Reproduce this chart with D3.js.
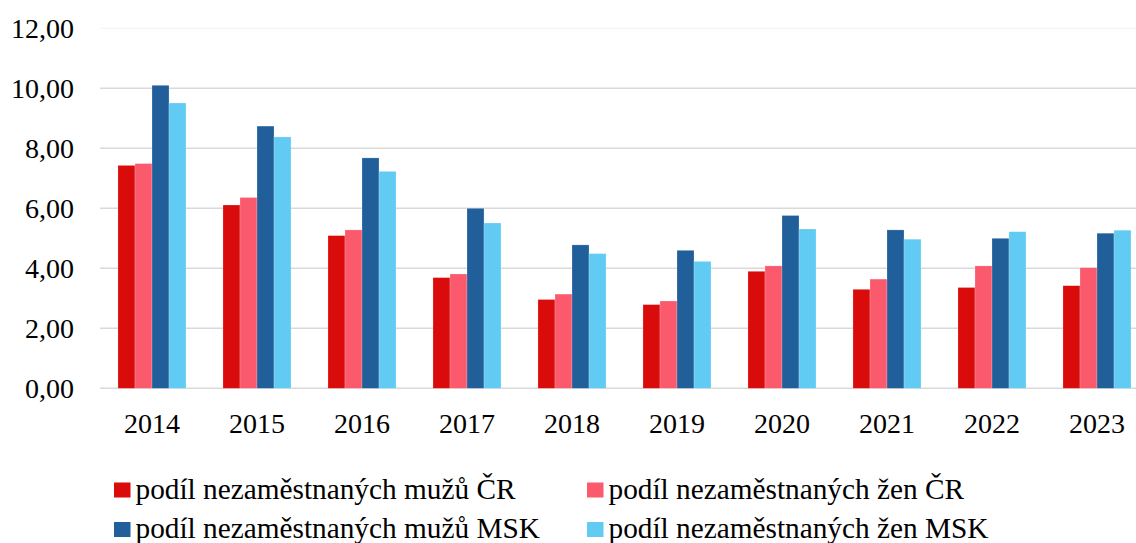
<!DOCTYPE html>
<html>
<head>
<meta charset="utf-8">
<script src="https://cdn.jsdelivr.net/npm/d3@7"></script>
<style>
  html, body { margin: 0; padding: 0; background: #fff; }
  svg { display: block; }
</style>
</head>
<body>
<svg id="chart" width="1136" height="543"></svg>
<script>
const years = ["2014","2015","2016","2017","2018","2019","2020","2021","2022","2023"];
const seriesNames = [
  "podíl nezaměstnaných mužů ČR",
  "podíl nezaměstnaných žen ČR",
  "podíl nezaměstnaných mužů MSK",
  "podíl nezaměstnaných žen MSK"
];
const menCR   = [7.43, 6.11, 5.09, 3.69, 2.96, 2.79, 3.90, 3.30, 3.36, 3.42];
const womenCR = [7.49, 6.36, 5.28, 3.81, 3.14, 2.91, 4.08, 3.64, 4.08, 4.02];
const menMSK  = [10.10, 8.74, 7.68, 6.00, 4.78, 4.60, 5.76, 5.28, 5.00, 5.17];
const womenMSK= [9.51, 8.38, 7.23, 5.51, 4.49, 4.23, 5.31, 4.97, 5.22, 5.27];
const yTicks = [0, 2, 4, 6, 8, 10, 12];
const colors = ["#DA0B0B", "#FA5A6C", "#215F9B", "#62CBF4"];

const seriesValues = [menCR, womenCR, menMSK, womenMSK];
const FONT = "'Liberation Serif', Tinos, 'Times New Roman', Times, 'DejaVu Serif', serif";

const svg = d3.select("#chart")
  .attr("font-family", FONT);

const y = d3.scaleLinear().domain([0, 12]).range([388.3, 28.3]);
const x = d3.scaleBand().domain(years).range([99.5, 1149.5]).paddingInner(0.352).paddingOuter(0.176);
const xs = d3.scaleBand().domain(d3.range(4)).range([0, x.bandwidth()]);

const fmt = v => d3.format(".2f")(v).replace(".", ",");

// gridlines
svg.append("g").selectAll("line").data(yTicks).join("line")
  .attr("x1", 100).attr("x2", 1136)
  .attr("y1", d => y(d)).attr("y2", d => y(d))
  .attr("stroke", d => d === 12 ? "#f2f2f2" : "#d9d9d9")
  .attr("stroke-width", d => d === 12 ? 1 : 1.6);

// y labels
svg.append("g").selectAll("text").data(yTicks).join("text")
  .attr("x", 74).attr("y", d => y(d))
  .attr("dy", "0.35em")
  .attr("text-anchor", "end")
  .attr("font-family", FONT)
  .attr("font-size", 28)
  .attr("fill", "#000")
  .text(d => fmt(d));

// bars
const groups = svg.append("g").selectAll("g").data(years).join("g")
  .attr("transform", d => `translate(${x(d)},0)`);
groups.selectAll("rect").data((yr, i) => seriesValues.map((s, k) => ({k, v: s[i]}))).join("rect")
  .attr("x", d => xs(d.k))
  .attr("width", xs.bandwidth())
  .attr("y", d => y(d.v))
  .attr("height", d => y(0) - y(d.v))
  .attr("fill", d => colors[d.k])
  .attr("stroke", "#ffffff")
  .attr("stroke-opacity", 0.35)
  .attr("stroke-width", 0.6);

// x labels
svg.append("g").selectAll("text").data(years).join("text")
  .attr("x", d => x(d) + x.bandwidth() / 2)
  .attr("y", 432.5)
  .attr("text-anchor", "middle")
  .attr("font-family", FONT)
  .attr("font-size", 28)
  .attr("fill", "#000")
  .text(d => d);

// legend
const legPos = [[114, 498.5], [587, 498.5], [114, 538], [587, 538]];
const leg = svg.append("g").selectAll("g").data(seriesNames).join("g")
  .attr("transform", (d, i) => `translate(${legPos[i][0]},${legPos[i][1]})`);
leg.append("rect").attr("x", 0).attr("y", -16).attr("width", 16.5).attr("height", 15)
  .attr("fill", (d, i) => colors[i]);
leg.append("text").attr("x", 21.5).attr("y", 0)
  .attr("font-family", FONT)
  .attr("font-size", 29.3)
  .attr("fill", "#000")
  .text(d => d);
</script>
</body>
</html>
